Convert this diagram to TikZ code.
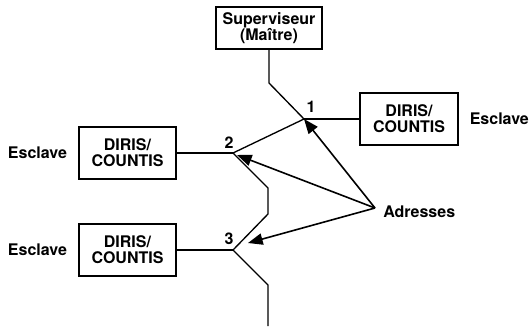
\documentclass[tikz,border=0pt]{standalone}
\usepackage{fontspec}
\setmainfont{TeX Gyre Heros}
\usepackage{tikz}
\usetikzlibrary{arrows.meta}
\usetikzlibrary{positioning}

\tikzset{
    box/.style = {draw, line width = 1.3pt, align = center, inner sep = 0pt,
        font = \bfseries\fontsize{12}{12}\selectfont},
    lbl/.style = {inner sep = 0pt, font = \bfseries\fontsize{12}{12}\selectfont},
    wire/.style = {line width = 1pt},
    addr/.style = {line width = 1.2pt, -{Triangle[length = 11pt, width = 8.5pt]}}
}

\begin{document}
\begin{tikzpicture}[x = 0.75pt, y = -0.75pt]
        \useasboundingbox (0, 0) rectangle (530, 326);

        \node[box, minimum width = 80pt, minimum height = 31.5pt] (sup) at (269, 28) {Superviseur\\(Maître)};
        \node[box, minimum width = 73.5pt, minimum height = 39pt] (d1) at (409, 119) {DIRIS/\\COUNTIS};
        \node[box, minimum width = 73pt, minimum height = 39pt] (d2) at (127.5, 153) {DIRIS/\\COUNTIS};
        \node[box, minimum width = 73pt, minimum height = 38.5pt] (d3) at (127.5, 250) {DIRIS/\\COUNTIS};

        \node[lbl, right = 8pt of d1] (e1) {Esclave};
        \node[lbl, left = 8pt of d2] (e2) {Esclave};
        \node[lbl, left = 8pt of d3] (e3) {Esclave};

        \coordinate (j1) at (304, 119);
        \coordinate (j2) at (233, 153);
        \coordinate (j3) at (233, 250);
        \coordinate (a2) at (237, 155);
        \coordinate (a3) at (248, 243);
        \coordinate (src) at (375, 208);
        \coordinate (bus) at (268, 326);

        \node[lbl] (n1) at (311, 107) {1};
        \node[lbl] (n2) at (229, 143) {2};
        \node[lbl] (n3) at (229, 239) {3};
        \node[lbl, anchor = west] (adr) at (383, 212) {Adresses};

        % bus line
        \draw[wire] (sup.south) -- (269, 83) -- (j1) -- (j2) -- (268, 188) -- (268, 214)
            -- (j3) -- (268, 285) -- (bus);
        \draw[wire] (j1) -- (d1.west);
        \draw[wire] (j2) -- (d2.east);
        \draw[wire] (j3) -- (d3.east);

        % addresses
        \draw[addr] (src) -- (j1);
        \draw[addr] (src) -- (a2);
        \draw[addr] (src) -- (a3);
\end{tikzpicture}
\end{document}
